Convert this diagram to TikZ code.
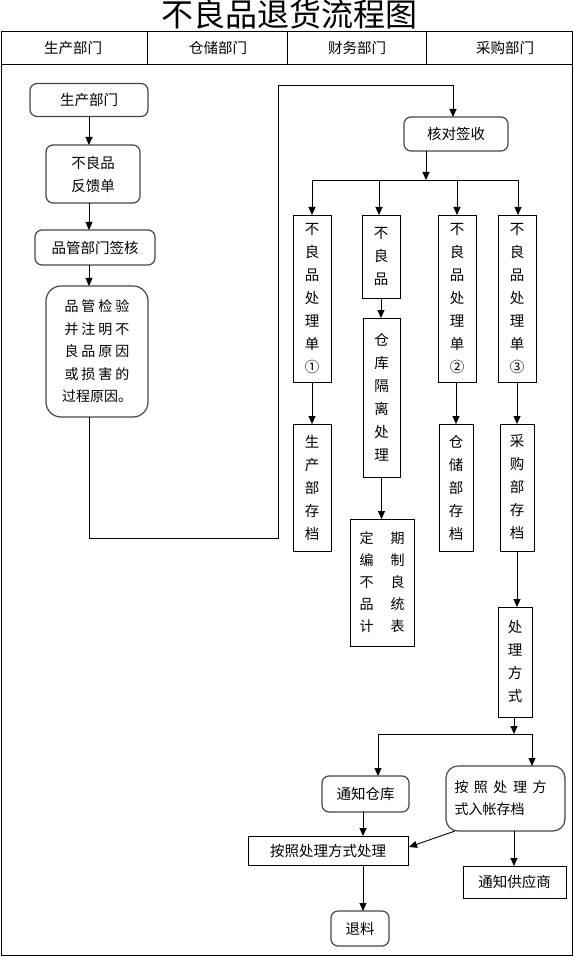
\documentclass[tikz,border=0pt]{standalone}
\usepackage{fontspec}
\setmainfont{Noto Sans CJK SC}
\usetikzlibrary{arrows.meta}
\begin{document}
\begin{tikzpicture}[x=1pt,y=-1pt,
  every node/.style={inner sep=0pt,outer sep=0pt,align=center,font=\fontsize{14.5}{23}\selectfont},
  rbox/.style={draw={rgb,255:red,70;green,70;blue,70},line width=1.2pt,rounded corners=7pt},
  sbox/.style={draw=black,line width=0.9pt},
  arr/.style={draw=black,line width=0.9pt,-{Triangle[length=8pt,width=7pt]}},
  ln/.style={draw=black,line width=0.9pt}]
\useasboundingbox (0,0) rectangle (573,957);
% title and frame
\node (title) at (289,14) {\fontsize{32}{34}\selectfont 不良品退货流程图};
\draw[line width=1pt] (1,32) rectangle (572,955);
\draw[line width=1pt] (1,65) -- (572,65);
\draw[line width=1pt] (147,32) -- (147,65);
\draw[line width=1pt] (287,32) -- (287,65);
\draw[line width=1pt] (426,32) -- (426,65);
\node (h1) at (73,48) {生产部门};
\node (h2) at (218,48) {仓储部门};
\node (h3) at (357,48) {财务部门};
\node (h4) at (505,48) {采购部门};
% left column
\node[rbox,minimum width=118pt,minimum height=33pt] (prod) at (89,100) {生产部门};
\node[rbox,minimum width=94pt,minimum height=58pt] (fb) at (93,174) {不良品\\反馈单};
\node[rbox,minimum width=120pt,minimum height=35pt] (qc) at (95,247.5) {品管部门签核};
\node[rbox,rounded corners=15pt,minimum width=102pt,minimum height=131pt,font=\fontsize{14}{22.5}\selectfont] (insp) at (97,351.5)
  {品\hspace{3pt}管\hspace{3pt}检\hspace{3pt}验\\并\hspace{3pt}注\hspace{3pt}明\hspace{3pt}不\\良\hspace{3pt}品\hspace{3pt}原\hspace{3pt}因\\或\hspace{3pt}损\hspace{3pt}害\hspace{3pt}的\\过程原因。\hspace{6pt}};
\coordinate (colL) at (89,0);
\draw[arr] (colL |- prod.south) -- (colL |- fb.north);
\draw[arr] (colL |- fb.south) -- (colL |- qc.north);
\draw[arr] (colL |- qc.south) -- (colL |- insp.north);
% check
\node[rbox,minimum width=104pt,minimum height=34pt] (chk) at (456,134) {核对签收};
\coordinate (c1) at (89,538);
\coordinate (c2) at (278,538);
\coordinate (c3) at (278,85);
\coordinate (c4) at (453,85);
\draw[arr] (colL |- insp.south) -- (c1) -- (c2) -- (c3) -- (c4) -- (c4 |- chk.north);
% first row
\node[sbox,minimum width=38pt,minimum height=167pt] (A) at (312,298.5) {不\\良\\品\\处\\理\\单\\①};
\node[sbox,minimum width=38pt,minimum height=83pt] (B) at (381,256.5) {不\\良\\品};
\node[sbox,minimum width=38pt,minimum height=167pt] (C) at (457,298.5) {不\\良\\品\\处\\理\\单\\②};
\node[sbox,minimum width=38pt,minimum height=167pt] (D) at (517,298.5) {不\\良\\品\\处\\理\\单\\③};
\coordinate (br) at (426,180);
\coordinate (brA) at (312,180);
\coordinate (brB) at (379,180);
\coordinate (brC) at (457,180);
\coordinate (brD) at (518,180);
\draw[arr] (br |- chk.south) -- (br);
\draw[ln] (brA) -- (brD);
\draw[arr] (brA) -- (brA |- A.north);
\draw[arr] (brB) -- (brB |- B.north);
\draw[arr] (brC) -- (brC |- C.north);
\draw[arr] (brD) -- (brD |- D.north);
% second row
\node[sbox,minimum width=38pt,minimum height=127pt] (A2) at (312,487.5) {生\\产\\部\\存\\档};
\node[sbox,minimum width=37pt,minimum height=159pt] (B2) at (381.5,397.5) {仓\\库\\隔\\离\\处\\理};
\node[sbox,minimum width=34pt,minimum height=127pt] (C2) at (456,487.5) {仓\\储\\部\\存\\档};
\node[sbox,minimum width=34pt,minimum height=127pt] (D2) at (517,487.5) {采\\购\\部\\存\\档};
\node[sbox,minimum width=64pt,minimum height=127pt,font=\fontsize{14}{22}\selectfont] (B3) at (382,582.5)
  {定\hspace{17pt}期\\编\hspace{17pt}制\\不\hspace{17pt}良\\品\hspace{17pt}统\\计\hspace{17pt}表};
\draw[arr] (A.south) -- (A2.north);
\draw[arr] (B.south) -- (B.south |- B2.north);
\draw[arr] (B2.south) -- (B2.south |- B3.north);
\draw[arr] (C.south -| C2.north) -- (C2.north);
\draw[arr] (D2.north |- D.south) -- (D2.north);
% purchasing chain
\node[sbox,minimum width=34pt,minimum height=110pt] (E) at (515,662) {处\\理\\方\\式};
\draw[arr] (D2.south) -- (D2.south |- E.north);
\coordinate (b2) at (514,734);
\coordinate (b2F) at (378,734);
\coordinate (b2G) at (532,734);
\node[rbox,minimum width=87pt,minimum height=36pt] (F) at (365.5,794) {通知仓库};
\node[rbox,rounded corners=12pt,minimum width=119pt,minimum height=65pt,text width=102pt,align=left,font=\fontsize{14}{22}\selectfont] (G) at (505.5,798.5)
  {按\hspace{5.5pt}照\hspace{5.5pt}处\hspace{5.5pt}理\hspace{5.5pt}方\\式入帐存档};
\node[sbox,minimum width=160pt,minimum height=29pt] (H) at (328,850.5) {按照处理方式处理};
\node[sbox,minimum width=103pt,minimum height=32pt] (I) at (514.5,882) {通知供应商};
\node[rbox,minimum width=58pt,minimum height=35pt] (J) at (360,928.5) {退料};
\draw[arr] (b2 |- E.south) -- (b2);
\draw[ln] (b2F) -- (b2G);
\draw[arr] (b2F) -- (b2F |- F.north);
\draw[arr] (b2G) -- (b2G |- G.north);
\coordinate (colM) at (363,0);
\draw[arr] (colM |- F.south) -- (colM |- H.north);
\draw[arr] (colM |- H.south) -- (colM |- J.north);
\coordinate (gs) at (455,831);
\coordinate (he) at (409,847);
\draw[arr] (gs) -- (he);
\coordinate (colR) at (514,0);
\draw[arr] (colR |- G.south) -- (colR |- I.north);
\end{tikzpicture}
\end{document}
